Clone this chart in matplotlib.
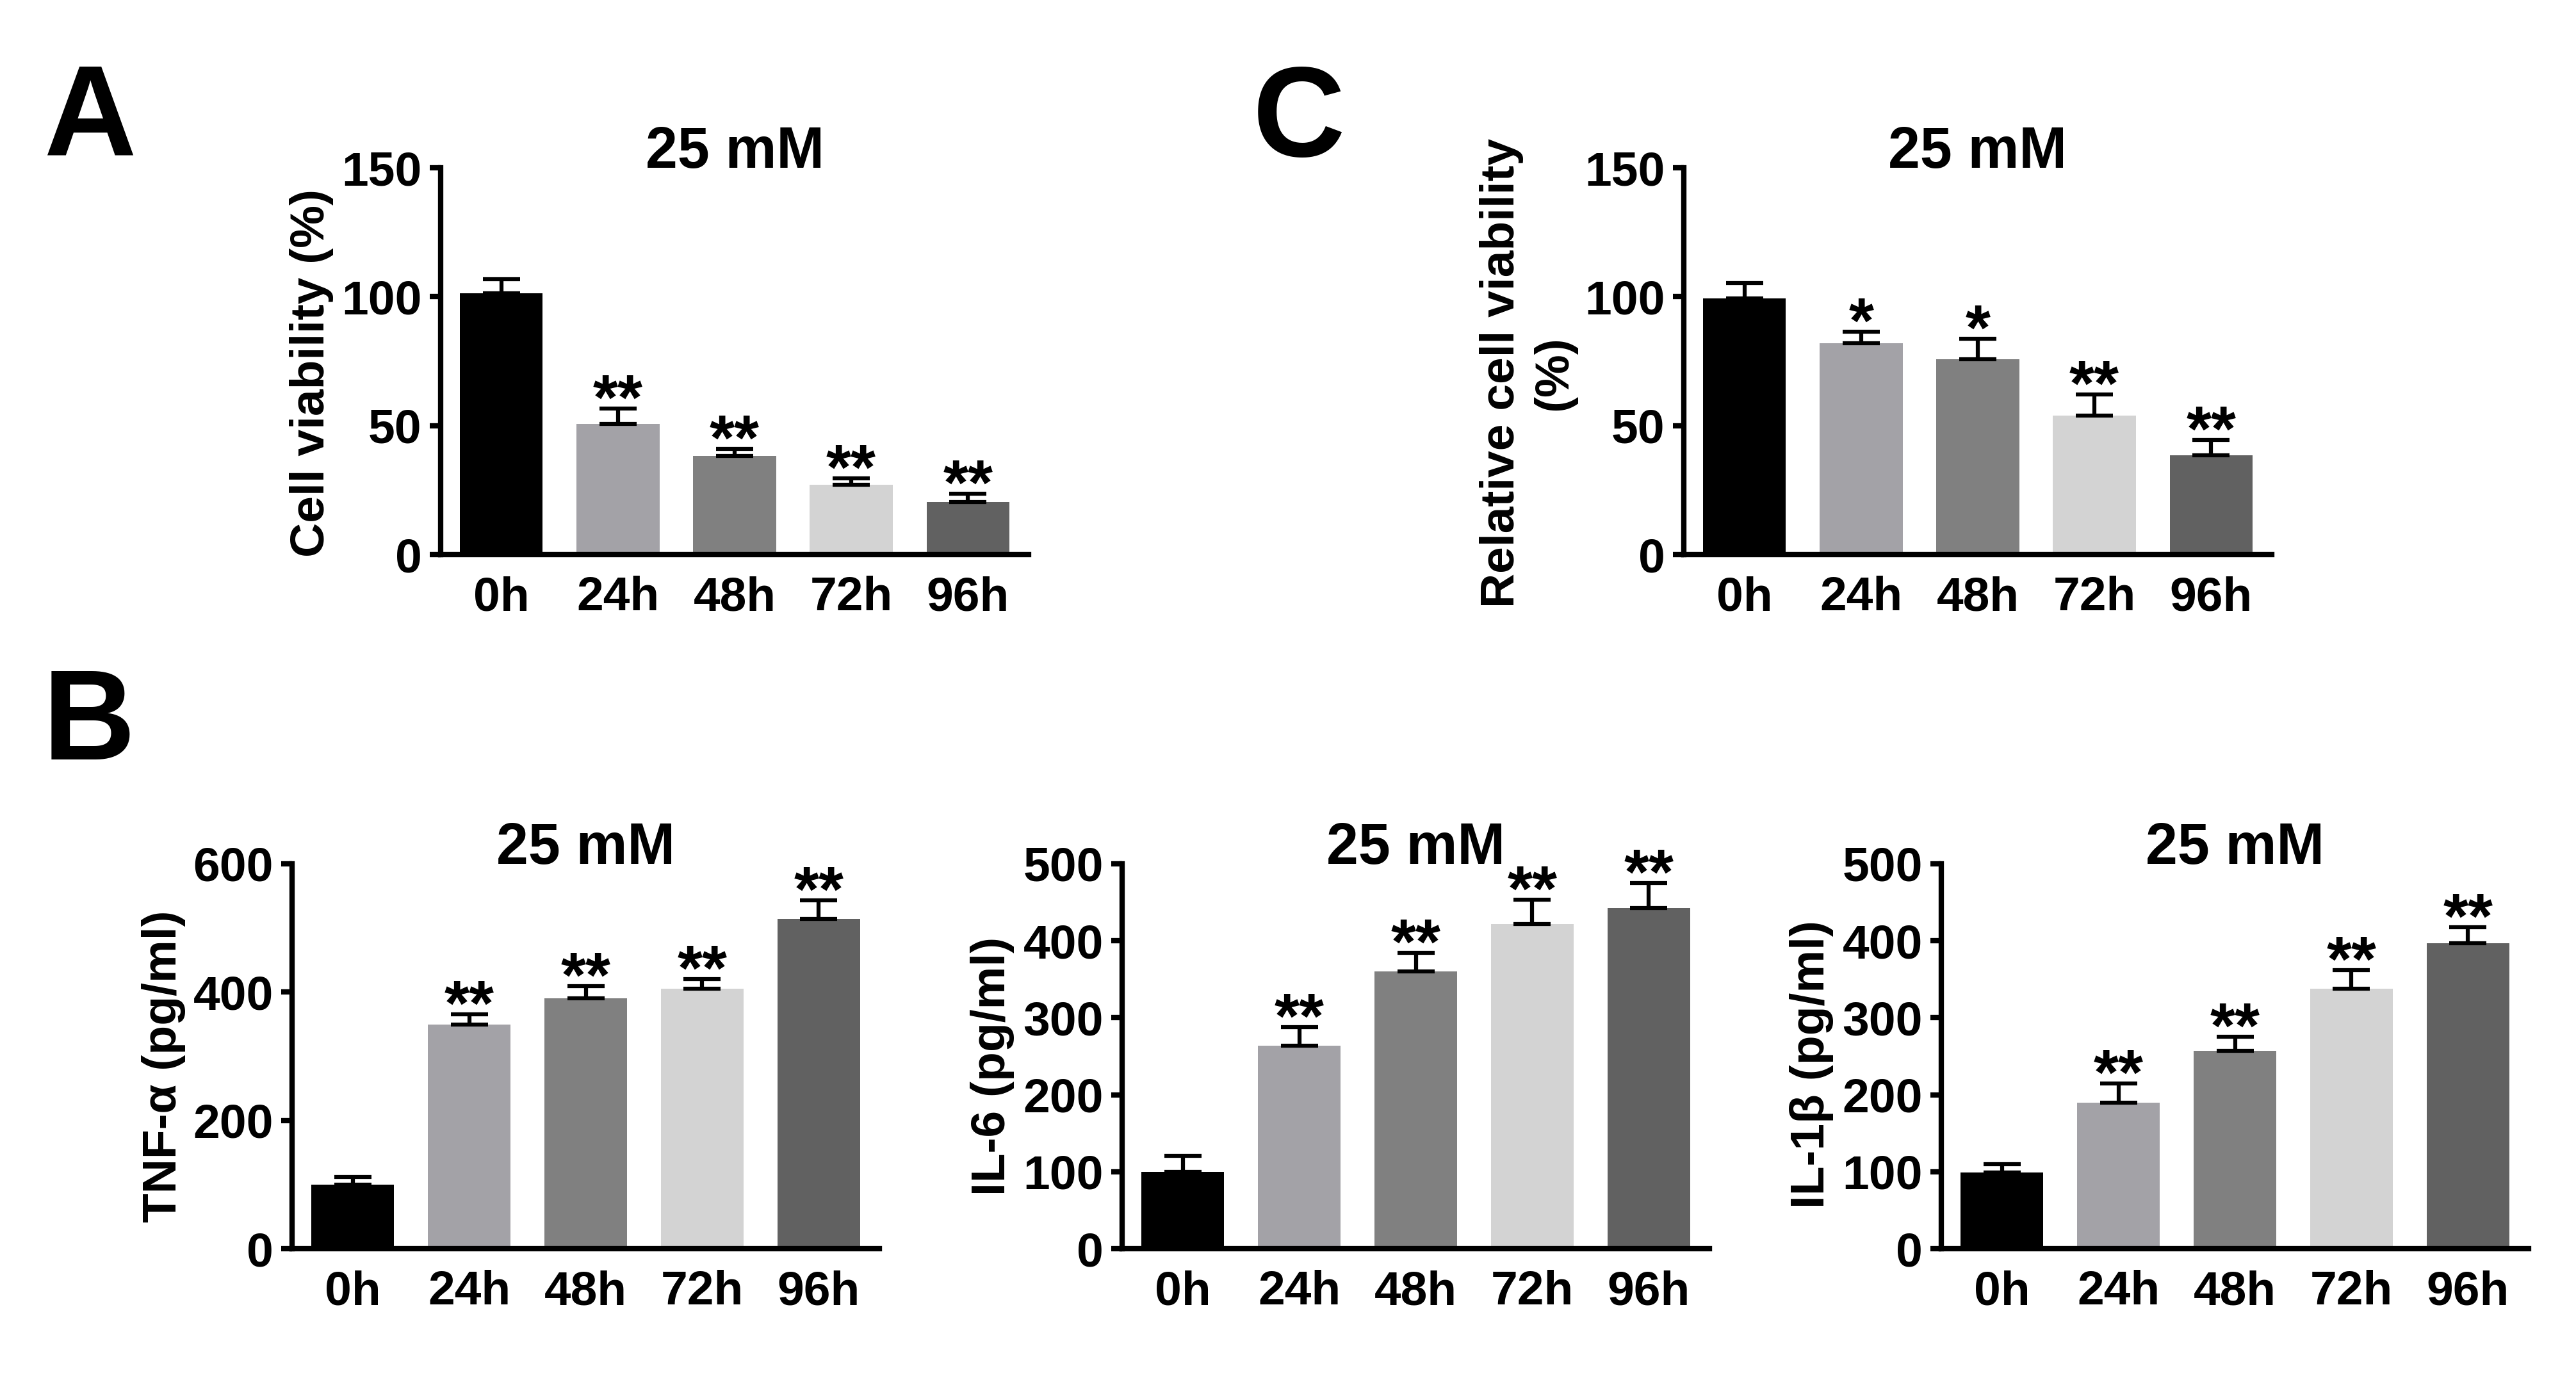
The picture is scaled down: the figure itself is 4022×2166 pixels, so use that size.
import numpy as np
import matplotlib
matplotlib.use("Agg")
import matplotlib.pyplot as plt

plt.rcParams['font.family'] = ['Liberation Sans', 'DejaVu Sans']
plt.rcParams['font.weight'] = 'bold'

# --- data ---
hours = ["0h", "24h", "48h", "72h", "96h"]
bar_colors = ["#000000", "#a3a2a7", "#808080", "#d3d3d3", "#616161"]

via_mean = [101.3, 50.6, 38.3, 27.1, 20.4]
via_err = [5.6, 6.0, 2.7, 2.4, 3.1]
via_stars = ["", "**", "**", "**", "**"]

rel_mean = [99.3, 82.0, 75.8, 53.8, 38.6]
rel_err = [6.0, 4.5, 7.8, 8.4, 5.8]
rel_stars = ["", "*", "*", "**", "**"]

tnf_mean = [100, 349, 390, 405, 514]
tnf_err = [12, 16.5, 19, 15, 29]
il6_mean = [100, 264, 360, 421.5, 442.5]
il6_err = [20.7, 24, 24, 32, 32.5]
il1b_mean = [99, 190, 257, 338, 397]
il1b_err = [11, 25, 18.5, 24, 21]
cyt_stars = ["", "**", "**", "**", "**"]

W, H = 4022, 2166
fig = plt.figure(figsize=(W / 300, H / 300), dpi=300)


def px_axes(left, top, right, bottom):
    return fig.add_axes([left / W, 1 - bottom / H, (right - left) / W, (bottom - top) / H])


def bar_panel(ax, means, errs, stars, ymax, ystep, ylabel, label_xy):
    x = np.arange(len(hours))
    ax.bar(x, means, width=0.71, color=bar_colors, zorder=2)
    ax.errorbar(x, means, yerr=[np.zeros(len(errs)), errs], fmt='none', ecolor='black',
                elinewidth=1.5, capsize=7, capthick=1.5, zorder=3)
    for xi, m, e, s in zip(x, means, errs, stars):
        if s:
            ax.annotate(s, xy=(xi, m + e), xytext=(0, -4), textcoords='offset points',
                        ha='center', va='baseline', fontsize=24, fontweight='bold')
    ax.set_xlim(-0.52, 4.52)
    ax.set_ylim(0, ymax)
    ax.set_yticks(np.arange(0, ymax + 1, ystep))
    ax.set_xticks(x)
    ax.set_xticklabels(hours)
    for sp in ['top', 'right']:
        ax.spines[sp].set_visible(False)
    for sp in ['left', 'bottom']:
        ax.spines[sp].set_linewidth(2)
    ax.tick_params(axis='y', length=4, width=2, pad=3, labelsize=18)
    ax.tick_params(axis='x', length=0, pad=8, labelsize=18)
    # title baseline sits on the top of the y axis
    ax.set_title("25 mM", fontsize=21.5, fontweight='bold', y=1.0, pad=0)
    ax.set_ylabel(ylabel, fontsize=18, fontweight='bold', va='center', linespacing=1.25)
    ax.yaxis.set_label_coords(*label_xy)


axA = px_axes(688, 262, 1606, 866)
bar_panel(axA, via_mean, via_err, via_stars, 150, 50, "Cell viability (%)", (-0.219, 0.47))

axC = px_axes(2629, 262, 3547, 866)
bar_panel(axC, rel_mean, rel_err, rel_stars, 150, 50, "Relative cell viability\n(%)", (-0.265, 0.469))

axB1 = px_axes(456, 1349, 1373, 1950)
bar_panel(axB1, tnf_mean, tnf_err, cyt_stars, 600, 200, "TNF-α (pg/ml)", (-0.219, 0.474))

axB2 = px_axes(1752, 1349, 2669, 1950)
bar_panel(axB2, il6_mean, il6_err, cyt_stars, 500, 100, "IL-6 (pg/ml)", (-0.221, 0.474))

axB3 = px_axes(3031, 1349, 3948, 1950)
bar_panel(axB3, il1b_mean, il1b_err, cyt_stars, 500, 100, "IL-1β (pg/ml)", (-0.221, 0.479))

# panel letters
fig.text(68 / W, 1 - 242 / H, "A", fontsize=48, fontweight='bold', va='baseline', ha='left')
fig.text(1956 / W, 1 - 244 / H, "C", fontsize=48, fontweight='bold', va='baseline', ha='left')
fig.text(67 / W, 1 - 1186 / H, "B", fontsize=48, fontweight='bold', va='baseline', ha='left')

fig.savefig("out.png", dpi=300)
